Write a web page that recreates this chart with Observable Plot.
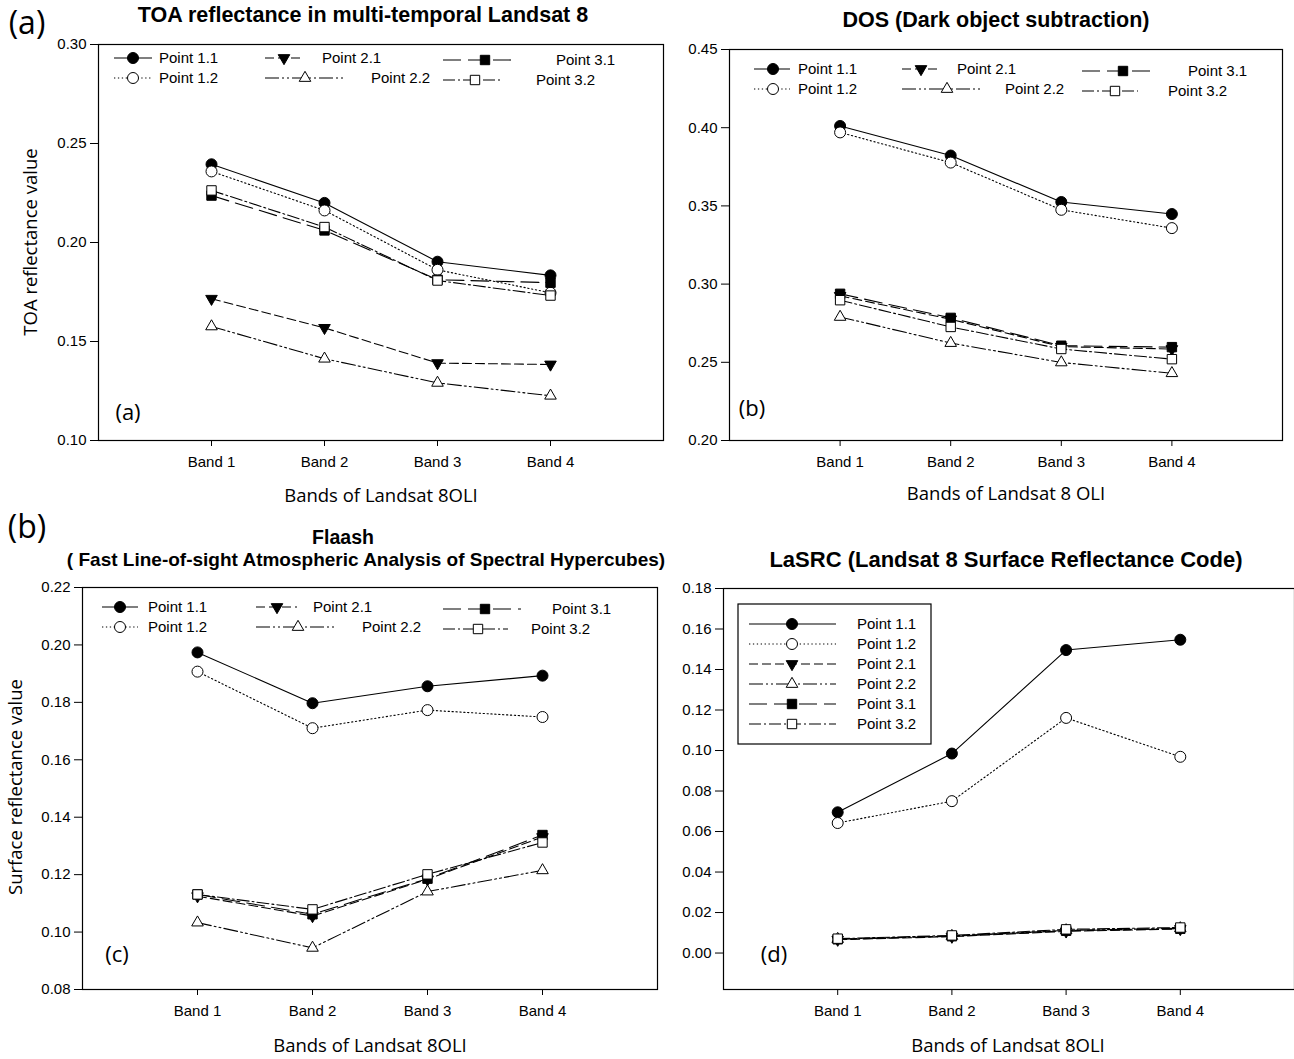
<!DOCTYPE html>
<html><head><meta charset="utf-8">
<script src="https://cdn.jsdelivr.net/npm/d3@7"></script>
<script src="https://cdn.jsdelivr.net/npm/@observablehq/plot@0.6"></script>
<style>
body{margin:0;background:#fff;}
#root{position:relative;width:1294px;height:1059px;overflow:hidden;background:#fff;font-family:"Liberation Sans",Arial,sans-serif;color:#000;}
#root svg{position:absolute;max-width:none;background:transparent;}
.t{position:absolute;white-space:nowrap;line-height:1.25;transform:translate(-50%,-50%);}
.b{font-weight:bold;font-family:"Liberation Sans",Arial,sans-serif;}
.o{font-family:"Open Sans",sans-serif;}
.r{transform:translate(-50%,-50%) rotate(-90deg);}
</style></head>
<body><div id="root"></div>
<script>
// ---- data ----
const bands = ["Band 1","Band 2","Band 3","Band 4"];
const seriesNames = ["Point 1.1","Point 1.2","Point 2.1","Point 2.2","Point 3.1","Point 3.2"];
// (a) TOA reflectance
const toaValues = [
  [0.2395,0.2200,0.1903,0.1834],
  [0.2359,0.2162,0.1862,0.1746],
  [0.1716,0.1569,0.1391,0.1384],
  [0.1576,0.1413,0.1291,0.1226],
  [0.2237,0.2061,0.1812,0.1797],
  [0.2263,0.2078,0.1808,0.1732]
];
// (b) DOS
const dosValues = [
  [0.4011,0.3822,0.3525,0.3448],
  [0.3970,0.3777,0.3475,0.3358],
  [0.2925,0.2775,0.2600,0.2585],
  [0.2790,0.2623,0.2499,0.2430],
  [0.2938,0.2784,0.2606,0.2597],
  [0.2897,0.2726,0.2585,0.2520]
];
// (c) Flaash
const flaashValues = [
  [0.1974,0.1797,0.1856,0.1893],
  [0.1907,0.1710,0.1773,0.1749],
  [0.1125,0.1056,0.1184,0.1331],
  [0.1033,0.0945,0.1141,0.1215],
  [0.1131,0.1062,0.1186,0.1338],
  [0.1131,0.1079,0.1201,0.1312]
];
// (d) LaSRC
const lasrcValues = [
  [0.0695,0.0985,0.1496,0.1547],
  [0.0642,0.0750,0.1161,0.0969],
  [0.0066,0.0081,0.0107,0.0119],
  [0.0069,0.0084,0.0112,0.0122],
  [0.0068,0.0083,0.0110,0.0120],
  [0.0071,0.0087,0.0117,0.0126]
];
const yTicksA = [0.10,0.15,0.20,0.25,0.30];
const yTicksB = [0.20,0.25,0.30,0.35,0.40,0.45];
const yTicksC = [0.08,0.10,0.12,0.14,0.16,0.18,0.20,0.22];
const yTicksD = [0.00,0.02,0.04,0.06,0.08,0.10,0.12,0.14,0.16,0.18];

// ---- styles ----
const styles = [
  {dash:null, symbol:"circle", fill:"black", rotate:0, r:5.5},
  {dash:"1.3,2.6", symbol:"circle", fill:"white", rotate:0, r:5.5},
  {dash:"9,4", symbol:"triangle", fill:"black", rotate:180, r:4.3},
  {dash:"14,3,2,3,2,3", symbol:"triangle", fill:"white", rotate:0, r:4.3},
  {dash:"18,7", symbol:"square", fill:"black", rotate:0, r:5.3},
  {dash:"12,3,2,3", symbol:"square", fill:"white", rotate:0, r:5.3}
];
const d3sym = {circle:d3.symbolCircle, triangle:d3.symbolTriangle, square:d3.symbolSquare};

const root = document.getElementById("root");

function panel(values, yDomain, yTicks, box, legend, legendBox) {
  const rows = [];
  values.forEach((vals, s) => vals.forEach((v, i) => rows.push({s, name: seriesNames[s], band: bands[i], x: i + 1, y: v})));
  const marks = [];
  values.forEach((_, s) => {
    const d = rows.filter(r => r.s === s);
    marks.push(Plot.line(d, {x:"x", y:"y", stroke:"black", strokeWidth:1.1, strokeDasharray: styles[s].dash}));
    marks.push(Plot.dot(d, {x:"x", y:"y", r:styles[s].r, symbol: styles[s].symbol, fill: styles[s].fill, stroke:"black", strokeWidth:1, rotate: styles[s].rotate}));
  });
  marks.push(Plot.frame({stroke:"black", strokeWidth:1.2}));
  marks.push(Plot.axisX({ticks:[1,2,3,4], tickFormat: d => bands[d-1], tickSize:6, tickPadding:10, label:null, stroke:"black"}));
  marks.push(Plot.axisY({ticks: yTicks, tickFormat: d3.format(".2f"), tickSize:8, tickPadding:4, label:null, stroke:"black"}));
  const svg = Plot.plot({
    width: box.w, height: box.h,
    marginLeft: box.ml, marginRight: box.mr, marginTop: box.mt, marginBottom: box.mb,
    x: {domain:[0,5]},
    y: {domain: yDomain},
    style: {fontFamily:"Liberation Sans, Arial, sans-serif", fontSize:"15px", color:"black", background:"transparent", overflow:"visible"},
    marks
  });
  svg.style.left = box.left + "px";
  svg.style.top = box.top + "px";
  root.appendChild(svg);
  // legend drawn into the same svg
  const g = d3.select(svg).append("g").attr("transform", `translate(${-box.left},${-box.top})`);
  if (legendBox) {
    g.append("rect").attr("x", legendBox[0]).attr("y", legendBox[1]).attr("width", legendBox[2]).attr("height", legendBox[3])
      .attr("fill", "white").attr("stroke", "black").attr("stroke-width", 1.2);
  }
  legend.forEach(([x1, x2, mx, tx, y], s) => {
    const st = styles[s];
    g.append("line").attr("x1", x1).attr("x2", x2).attr("y1", y).attr("y2", y)
      .attr("stroke", "black").attr("stroke-width", 1.1).attr("stroke-dasharray", st.dash);
    g.append("path").attr("d", d3.symbol(d3sym[st.symbol], st.r * st.r * Math.PI)())
      .attr("transform", `translate(${mx},${y}) rotate(${st.rotate})`)
      .attr("fill", st.fill).attr("stroke", "black").attr("stroke-width", 1);
    g.append("text").attr("x", tx).attr("y", y).attr("dy", "0.35em").attr("fill", "black")
      .attr("text-anchor", "start").style("font-size", "15px").text(seriesNames[s]);
  });
}

panel(toaValues, [0.10, 0.30], yTicksA,
  {left:0, top:0, w:670, h:510, ml:98, mr:7, mt:44, mb:70},
  [[114,152,133,159,58],[114,152,133,159,78],[265,303,284,322,58],[265,344,305,371,78],[443,516,485,556,60],[443,503,475,536,80]]);
panel(dosValues, [0.20, 0.45], yTicksB,
  {left:660, top:0, w:634, h:510, ml:69, mr:12, mt:49, mb:70},
  [[754,790,773,798,69],[754,790,773,798,89],[902,938,921,957,69],[902,982,947,1005,89],[1082,1151,1123,1188,71],[1082,1138,1115,1168,91]]);
panel(flaashValues, [0.08, 0.22], yTicksC,
  {left:0, top:520, w:670, h:539, ml:82, mr:13, mt:67, mb:70},
  [[102,138,120,148,607],[102,138,120,148,627],[256,297,277,313,607],[256,336,298,362,627],[443,521,485,552,609],[443,508,478,531,629]]);
panel(lasrcValues, [-0.018, 0.18], yTicksD,
  {left:660, top:520, w:634, h:539, ml:63, mr:0, mt:68, mb:70},
  [[749,836,792,857,624],[749,836,792,857,644],[749,836,792,857,664],[749,836,792,857,684],[749,836,792,857,704],[749,836,792,857,724]],
  [738,604,193,140]);

// ---- text ----
const texts = [
  ["(a)", 27, 22, "o", 32],
  ["(b)", 27, 526, "o", 32],
  ["TOA reflectance in multi-temporal Landsat 8", 363, 15, "b", 21.5],
  ["DOS (Dark object subtraction)", 996, 20, "b", 21.5],
  ["Flaash", 343, 537, "b", 19.5],
  ["( Fast Line-of-sight Atmospheric Analysis of Spectral Hypercubes)", 366, 560, "b", 19],
  ["LaSRC (Landsat 8 Surface Reflectance Code)", 1006, 560, "b", 22],
  ["TOA reflectance value", 30, 242, "o r", 18.5],
  ["Surface reflectance value", 15, 787, "o r", 18.5],
  ["Bands of Landsat 8OLI", 381, 495, "o", 18.5],
  ["Bands of Landsat 8 OLI", 1006, 493, "o", 18.5],
  ["Bands of Landsat 8OLI", 370, 1045, "o", 18.5],
  ["Bands of Landsat 8OLI", 1008, 1045, "o", 18.5],
  ["(a)", 128, 412, "o", 22],
  ["(b)", 752, 408, "o", 22],
  ["(c)", 117, 954, "o", 22],
  ["(d)", 774, 954, "o", 22]
];
texts.forEach(([s, x, y, cls, fs]) => {
  const d = document.createElement("div");
  d.className = "t " + cls;
  d.style.left = x + "px"; d.style.top = y + "px"; d.style.fontSize = fs + "px";
  d.textContent = s;
  root.appendChild(d);
});
</script></body></html>
